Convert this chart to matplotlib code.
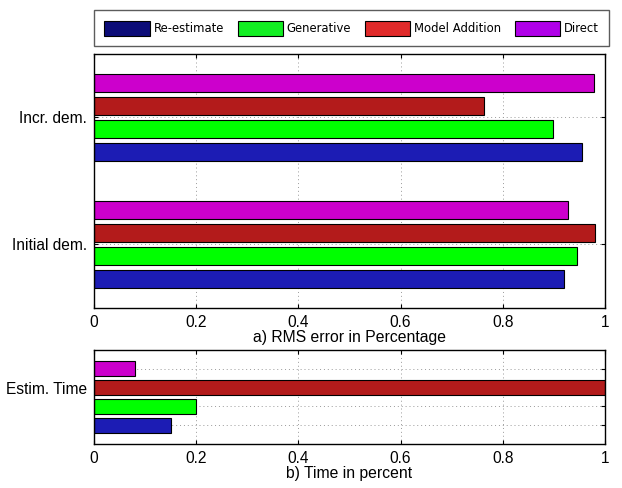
import numpy as np
import matplotlib
matplotlib.use("Agg")
from matplotlib import pyplot as plt
from matplotlib.patches import Patch

plt.rcParams.update({
    "font.family": ["Liberation Sans", "DejaVu Sans"],
    "font.size": 11,
})

# data
methods = ["Re-estimate", "Generative", "Model Addition", "Direct"]
groups = ["Initial dem.", "Incr. dem."]
rms_initial = [0.920, 0.945, 0.981, 0.927]
rms_incr = [0.956, 0.899, 0.764, 0.979]
time_vals = [0.15, 0.20, 1.00, 0.08]
time_labels = ["", "", "Estim. Time", ""]

bar_cols = ["#1c1cb4", "#00ff00", "#b31b1b", "#cc00cc"]
leg_cols = ["#0c0c78", "#12ee22", "#e02a2a", "#b000e8"]

fig = plt.figure(figsize=(6.22, 4.88), dpi=100)

def style_axes(ax):
    ax.tick_params(direction="in", length=3, top=True, right=True, labelsize=11.2, pad=5)
    for s in ax.spines.values():
        s.set_linewidth(1.0)
    ax.set_axisbelow(True)
    ax.grid(True, linestyle=(0, (1, 3)), color="#999999", linewidth=0.7)
    ax.set_xlim(0, 1)
    ax.set_xticks([0, 0.2, 0.4, 0.6, 0.8, 1])
    ax.set_xticklabels(["0", "0.2", "0.4", "0.6", "0.8", "1"])

# a) RMS error
ax1 = fig.add_axes([0.1511, 0.3689, 0.8215, 0.5205])
ypos = np.array([1, 2])
step = 0.181
for i, m in enumerate(methods):
    vals = [rms_initial[i], rms_incr[i]]
    ax1.barh(ypos + (i - 1.5) * step, vals, height=0.145, color=bar_cols[i],
             edgecolor="black", linewidth=0.8)
ax1.set_ylim(0.5, 2.5)
ax1.set_yticks(ypos)
ax1.set_yticklabels(groups)
style_axes(ax1)
ax1.set_xlabel("a) RMS error in Percentage", fontsize=11.3, labelpad=0)

# b) Time
ax2 = fig.add_axes([0.1511, 0.0902, 0.8215, 0.1926])
tpos = np.arange(1, 5)
ax2.barh(tpos, time_vals, height=0.8, color=bar_cols, edgecolor="black", linewidth=0.8)
ax2.set_ylim(0, 5)
ax2.set_yticks(tpos)
ax2.set_yticklabels(time_labels)
style_axes(ax2)
ax2.set_xlabel("b) Time in percent", fontsize=11.3, labelpad=0)

# legend box on top
handles = [Patch(facecolor=c, edgecolor="black", linewidth=0.8) for c in leg_cols]
leg = fig.legend(handles, methods, loc="lower left", ncol=4,
                 bbox_to_anchor=(0.1511, 0.9057, 0.828, 0.082), mode="expand",
                 fancybox=False, edgecolor="#333333", handlelength=3.9,
                 handleheight=1.6, handletextpad=0.3, borderaxespad=0,
                 borderpad=0.9, prop={"family": "DejaVu Sans", "size": 8.4})
leg.get_frame().set_linewidth(1.0)

fig.savefig("out.png", dpi=100)
